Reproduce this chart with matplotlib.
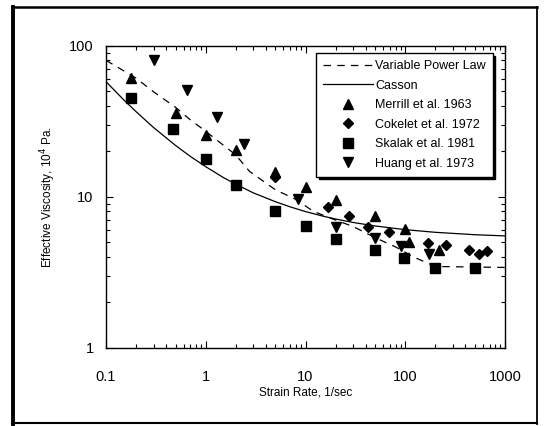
import matplotlib
matplotlib.use("Agg")
import matplotlib.pyplot as plt
from matplotlib.lines import Line2D

plt.rcParams["font.family"] = ["Liberation Sans", "DejaVu Sans"]

# data
merrill_x = [0.18, 0.5, 1, 2, 5, 10, 20, 50, 100, 110, 220]
merrill_y = [61, 36, 25.6, 20.4, 14.6, 11.6, 9.5, 7.5, 6.1, 5.0, 4.45]

cokelet_x = [5, 17, 27, 42, 68, 170, 255, 440, 550, 660]
cokelet_y = [13.6, 8.5, 7.5, 6.3, 5.8, 4.9, 4.8, 4.45, 4.2, 4.4]

skalak_x = [0.18, 0.47, 1, 2, 5, 10, 20, 50, 97, 197, 495]
skalak_y = [45, 28, 17.8, 11.9, 8.0, 6.4, 5.25, 4.43, 3.95, 3.36, 3.35]

huang_x = [0.3, 0.65, 1.3, 2.4, 8.4, 20, 50, 90, 172]
huang_y = [81, 51, 33.6, 22.2, 9.6, 6.3, 5.3, 4.75, 4.15]

casson_x = [0.1, 0.15, 0.2, 0.3, 0.5, 0.7, 1, 1.5, 2, 3, 5, 7, 10, 15, 20, 30, 50,
            100, 200, 500, 1000]
casson_y = [57.8, 43.9, 36.6, 28.7, 21.8, 18.5, 15.8, 13.4, 12.1, 10.6, 9.26, 8.57,
            7.97, 7.43, 7.12, 6.75, 6.40, 6.05, 5.81, 5.60, 5.5]

vpl_x = [0.1, 0.2, 0.3, 0.5, 0.7, 1, 2, 2.75, 5, 8, 12, 20, 30, 50, 80, 120, 150, 200, 1000]
vpl_y = [80, 61, 49.5, 39, 32.3, 27.1, 18.9, 14.7, 11.1, 9.6, 8.0, 7.0, 6.35, 5.35, 4.65, 4.0, 3.75, 3.45, 3.4]

fig = plt.figure(figsize=(5.48, 4.26), dpi=100)
ax = fig.add_axes([106 / 548, 1 - 347.7 / 426, 399 / 548, 302 / 426])

ax.plot(vpl_x, vpl_y, color="k", lw=0.9, dashes=(6, 5))
ax.plot(casson_x, casson_y, color="k", lw=0.9)
ms = dict(color="k", ls="none")
ax.plot(merrill_x, merrill_y, marker="^", ms=7, **ms)
ax.plot(cokelet_x, cokelet_y, marker="D", ms=5.2, **ms)
ax.plot(skalak_x, skalak_y, marker="s", ms=6.5, **ms)
ax.plot(huang_x, huang_y, marker="v", ms=7, **ms)

ax.set_xscale("log")
ax.set_yscale("log")
ax.set_xlim(0.1, 1000)
ax.set_ylim(1, 100)
ax.set_xticks([0.1, 1, 10, 100, 1000], ["0.1", "1", "10", "100", "1000"])
ax.set_yticks([1, 10, 100], ["1", "10", "100"])
ax.tick_params(which="both", direction="in", top=True, right=True, width=0.8)
ax.tick_params(which="major", length=5)
ax.tick_params(which="minor", length=3)
ax.tick_params(axis="x", which="major", pad=16, labelsize=10.5)
ax.tick_params(axis="y", which="major", pad=9, labelsize=10.5)
for s in ax.spines.values():
    s.set_linewidth(1.0)

ax.set_xlabel("Strain Rate, 1/sec", fontsize=8.5, labelpad=2)
ax.set_ylabel("Effective Viscosity, 10$^{4}$ Pa.", fontsize=8.5, labelpad=8)

handles = [
    Line2D([0], [0], color="k", lw=0.9, dashes=(6, 5), label="Variable Power Law"),
    Line2D([0], [0], color="k", lw=0.9, label="Casson"),
    Line2D([0], [0], marker="^", ms=7, ls="none", color="k", label="Merrill et al. 1963"),
    Line2D([0], [0], marker="D", ms=5.2, ls="none", color="k", label="Cokelet et al. 1972"),
    Line2D([0], [0], marker="s", ms=6.5, ls="none", color="k", label="Skalak et al. 1981"),
    Line2D([0], [0], marker="v", ms=7, ls="none", color="k", label="Huang et al. 1973"),
]
leg = ax.legend(handles=handles, loc="upper right", bbox_to_anchor=(0.969, 0.975),
                borderaxespad=0, fontsize=9, handlelength=4.0, handletextpad=0.15,
                labelspacing=0.6, borderpad=0.55, fancybox=False, framealpha=1,
                edgecolor="k", shadow={"color": "k", "alpha": 1})
leg.get_frame().set_linewidth(1.0)

# outer frame of the scanned figure
fig.add_artist(Line2D([13 / 548, 13 / 548], [0.004, 0.984], color="k", lw=2.8))
fig.add_artist(Line2D([0.022, 537 / 548], [0.984, 0.984], color="k", lw=1.8))
fig.add_artist(Line2D([537 / 548, 537 / 548], [0.004, 0.984], color="k", lw=1.3))
fig.add_artist(Line2D([0.022, 537 / 548], [0.006, 0.006], color="k", lw=1.5))

fig.savefig("out.png", dpi=100)
